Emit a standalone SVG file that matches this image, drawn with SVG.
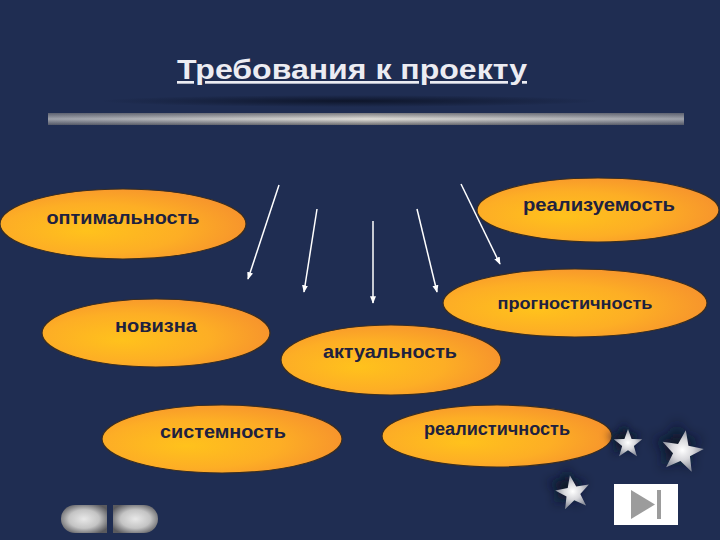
<svg xmlns="http://www.w3.org/2000/svg" width="720" height="540" viewBox="0 0 720 540">
<defs>
<radialGradient id="og" cx="0.4" cy="0.55" r="0.6" fx="0.35" fy="0.6">
<stop offset="0" stop-color="#ffc21c"/>
<stop offset="0.6" stop-color="#fdae25"/>
<stop offset="1" stop-color="#f7952c"/>
</radialGradient>
<linearGradient id="barv" x1="0" y1="0" x2="0" y2="1">
<stop offset="0" stop-color="#7d7d80"/>
<stop offset="0.5" stop-color="#e2e0da"/>
<stop offset="1" stop-color="#6e6e72"/>
</linearGradient>
<linearGradient id="barh" x1="0" y1="0" x2="1" y2="0">
<stop offset="0" stop-color="#1f2d52" stop-opacity="0.35"/>
<stop offset="0.5" stop-color="#1f2d52" stop-opacity="0"/>
<stop offset="1" stop-color="#1f2d52" stop-opacity="0.35"/>
</linearGradient>
<radialGradient id="shadow" cx="0.5" cy="0.5" r="0.5">
<stop offset="0" stop-color="#0c1326" stop-opacity="0.9"/>
<stop offset="1" stop-color="#0c1326" stop-opacity="0"/>
</radialGradient>
<radialGradient id="btn" cx="0.5" cy="0.5" r="0.6">
<stop offset="0" stop-color="#e8e8e8"/>
<stop offset="0.55" stop-color="#c4c4c4"/>
<stop offset="1" stop-color="#5a5a5e"/>
</radialGradient>
<radialGradient id="starg" cx="0.5" cy="0.5" r="0.5">
<stop offset="0" stop-color="#ffffff"/>
<stop offset="0.5" stop-color="#d8d8dc"/>
<stop offset="1" stop-color="#8e929e"/>
</radialGradient>
<filter id="blur" x="-50%" y="-50%" width="200%" height="200%"><feGaussianBlur stdDeviation="2.5"/></filter>
<marker id="ah" viewBox="0 0 10 10" refX="9" refY="5" markerWidth="5" markerHeight="5" orient="auto">
<path d="M0,1 L10,5 L0,9 z" fill="#ffffff"/>
</marker>
<polygon id="star" points="0,-10 2.4,-3.3 9.5,-3.1 3.9,1.3 5.9,8.1 0,4.1 -5.9,8.1 -3.9,1.3 -9.5,-3.1 -2.4,-3.3"/>
</defs>
<style>
.node ellipse{fill:url(#og);stroke:#3a2e22;stroke-width:1.2}
.node text{font-family:"Liberation Sans",Arial,sans-serif;font-weight:bold;fill:#20213f;text-anchor:middle;font-size:19px}
.conn line{stroke:#ffffff;stroke-width:1.5;marker-end:url(#ah)}
</style>
<rect width="720" height="540" fill="#1f2d52"/>
<text x="352" y="79" font-family="Liberation Sans,Arial,sans-serif" font-size="27" font-weight="bold" fill="#ececf2" text-anchor="middle" text-decoration="underline" textLength="350" lengthAdjust="spacingAndGlyphs">Требования к проекту</text>
<ellipse cx="350" cy="101" rx="250" ry="6" fill="url(#shadow)"/>
<rect x="48" y="113" width="636" height="12" fill="url(#barv)"/>
<rect x="48" y="113" width="636" height="12" fill="url(#barh)"/>
<g class="conn">
<line x1="279" y1="185" x2="248" y2="279"/>
<line x1="317" y1="209" x2="304" y2="292"/>
<line x1="373" y1="221" x2="373" y2="303"/>
<line x1="417" y1="209" x2="437" y2="292"/>
<line x1="461" y1="184" x2="500" y2="264"/>
</g>
<g id="n-opt" class="node"><ellipse cx="123" cy="224" rx="123" ry="35"/><text x="123" y="224" textLength="153" lengthAdjust="spacingAndGlyphs">оптимальность</text></g>
<g id="n-real" class="node"><ellipse cx="598" cy="210" rx="121" ry="32"/><text x="599" y="211" textLength="152" lengthAdjust="spacingAndGlyphs">реализуемость</text></g>
<g id="n-progn" class="node"><ellipse cx="575" cy="303" rx="132" ry="34"/><text x="575" y="309" style="font-size:17px" textLength="155" lengthAdjust="spacingAndGlyphs">прогностичность</text></g>
<g id="n-nov" class="node"><ellipse cx="156" cy="333" rx="114" ry="34"/><text x="156" y="332" textLength="82" lengthAdjust="spacingAndGlyphs">новизна</text></g>
<g id="n-akt" class="node"><ellipse cx="391" cy="360" rx="110" ry="35"/><text x="390" y="358" textLength="134" lengthAdjust="spacingAndGlyphs">актуальность</text></g>
<g id="n-sist" class="node"><ellipse cx="222" cy="439" rx="120" ry="34"/><text x="223" y="438" textLength="126" lengthAdjust="spacingAndGlyphs">системность</text></g>
<g id="n-realist" class="node"><ellipse cx="497" cy="436" rx="115" ry="31"/><text x="497" y="435" style="font-size:18px" textLength="146" lengthAdjust="spacingAndGlyphs">реалистичность</text></g>
<g id="stars">
<use href="#star" transform="translate(624,440) scale(1.8)" fill="#0c1326" filter="url(#blur)"/>
<use href="#star" transform="translate(628,444) scale(1.5)" fill="url(#starg)"/>
<use href="#star" transform="translate(677,447) scale(2.6)" fill="#0c1326" filter="url(#blur)"/>
<use href="#star" transform="translate(682,452) scale(2.2) rotate(10)" fill="url(#starg)"/>
<use href="#star" transform="translate(567,488) scale(2.1)" fill="#0c1326" filter="url(#blur)"/>
<use href="#star" transform="translate(573,493) scale(1.8) rotate(-10)" fill="url(#starg)"/>
</g>
<g id="btn-next">
<rect x="614" y="484" width="64" height="41" fill="#ffffff"/>
<polygon points="631,490 631,519 655,504.5" fill="#9c9c9c"/>
<rect x="657" y="490" width="4" height="29" fill="#9c9c9c"/>
</g>
<g id="btn-nav">
<path d="M75,505 H107 V533 H75 A14,14 0 0 1 75,505 z" fill="url(#btn)"/>
<path d="M113,505 H144 A14,14 0 0 1 144,533 H113 z" fill="url(#btn)"/>
</g>
</svg>
